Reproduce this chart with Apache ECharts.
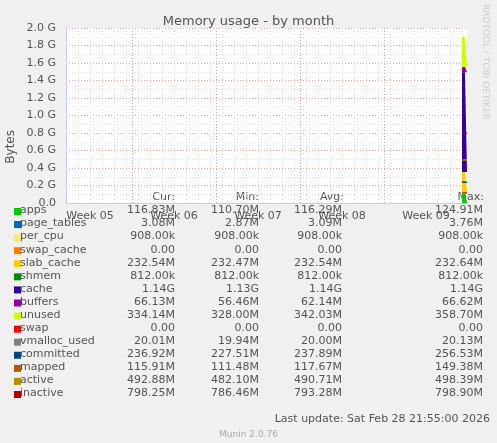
<!DOCTYPE html>
<html><head><meta charset="utf-8">
<script src="https://cdn.jsdelivr.net/npm/echarts@6/dist/echarts.min.js"></script>
<style>html,body{margin:0;background:#f0f0f0}#c{width:497px;height:443px}</style>
</head><body><div id="c"></div>
<script>
// x is in 2-hour steps from the left edge of the graph (12 steps per day), values in bytes
var steps = [396, 398, 399, 401];
var stackNames = ['apps','page_tables','per_cpu','swap_cache','slab_cache','shmem','cache','buffers','unused','swap'];
var stackColors = ['#00cc00','#0066b3','#ffe680','#ff8000','#ffcc00','#008f00','#330099','#990099','#ccff00','#ff0000'];
var apps        = [117.5e6, 116.8e6, 116.8e6, 116.83e6];
var page_tables = [3.1e6, 3.08e6, 3.08e6, 3.08e6];
var per_cpu     = [0.908e6, 0.908e6, 0.908e6, 0.908e6];
var swap_cache  = [0, 0, 0, 0];
var slab_cache  = [232.6e6, 232.5e6, 232.5e6, 232.54e6];
var shmem       = [0.812e6, 0.812e6, 0.812e6, 0.812e6];
var cache       = [1.14e9, 1.14e9, 1.14e9, 1.14e9];
var buffers     = [56e6, 62e6, 64e6, 66.13e6];
var unused      = [350e6, 340e6, 336e6, 334.14e6];
var swap        = [0, 0, 0, 0];
var lineNames = ['vmalloc_used','committed','mapped','active','inactive'];
var lineColors = ['#808080','#00487d','#b35a00','#b38f00','#b30000'];
var vmalloc_used = [20.0e6, 20.0e6, 20.0e6, 20.01e6];
var committed    = [240e6, 238e6, 237e6, 236.92e6];
var mapped       = [118e6, 117e6, 116e6, 115.91e6];
var active       = [490e6, 491e6, 492e6, 492.88e6];
var inactive     = [790e6, 795e6, 797e6, 798.25e6];
var weekLabels = ['Week 05','Week 06','Week 07','Week 08','Week 09'];
var legendRows = [
  ['apps','116.83M','110.70M','116.29M','124.91M'],
  ['page_tables','3.08M','2.87M','3.09M','3.76M'],
  ['per_cpu','908.00k','908.00k','908.00k','908.00k'],
  ['swap_cache','0.00','0.00','0.00','0.00'],
  ['slab_cache','232.54M','232.47M','232.54M','232.64M'],
  ['shmem','812.00k','812.00k','812.00k','812.00k'],
  ['cache','1.14G','1.13G','1.14G','1.14G'],
  ['buffers','66.13M','56.46M','62.14M','66.62M'],
  ['unused','334.14M','328.00M','342.03M','358.70M'],
  ['swap','0.00','0.00','0.00','0.00'],
  ['vmalloc_used','20.01M','19.94M','20.00M','20.13M'],
  ['committed','236.92M','227.51M','237.89M','256.53M'],
  ['mapped','115.91M','111.48M','117.67M','149.38M'],
  ['active','492.88M','482.10M','490.71M','498.39M'],
  ['inactive','798.25M','786.46M','793.28M','798.90M']
];
var stackData = [apps,page_tables,per_cpu,swap_cache,slab_cache,shmem,cache,buffers,unused,swap];
var lineData = [vmalloc_used,committed,mapped,active,inactive];
var legendColors = stackColors.concat(lineColors);

var N = 402;
var cats = [];
for (var i = 0; i < N; i++) cats.push(i);
function full(arr){
  var out = new Array(N).fill(null);
  steps.forEach(function(s,i){ out[s] = arr[i]/1e9; });
  for (var k = steps[0]; k <= steps[steps.length-1]; k++) if (out[k] === null) out[k] = out[k-1];
  return out;
}

var series = [];
stackNames.forEach(function(n,i){
  series.push({name:n,type:'line',stack:'mem',data:full(stackData[i]),symbol:'none',
    lineStyle:{width:0},areaStyle:{color:stackColors[i],opacity:1},itemStyle:{color:stackColors[i]}});
});
lineNames.forEach(function(n,i){
  series.push({name:n,type:'line',data:full(lineData[i]),symbol:'none',
    lineStyle:{width:1.5,color:lineColors[i]},itemStyle:{color:lineColors[i]}});
});
series.push({type:'line',data:[],markLine:{silent:true,symbol:'none',label:{show:false},
  lineStyle:{color:'#e0a0a0',type:[1,2],width:1},
  data:[66,150,234,318].map(function(x){return {xAxis:x};})}});

var F = 'DejaVu Sans';
var graphic = [
  {type:'text',right:322,top:192,style:{text:'Cur:',font:'11px '+F,fill:'#555'}},
  {type:'text',right:238,top:192,style:{text:'Min:',font:'11px '+F,fill:'#555'}},
  {type:'text',right:153,top:192,style:{text:'Avg:',font:'11px '+F,fill:'#555'}},
  {type:'text',right:13,top:192,style:{text:'Max:',font:'11px '+F,fill:'#555'}},
  {type:'text',right:7,top:414,style:{text:'Last update: Sat Feb 28 21:55:00 2026',font:'11px '+F,fill:'#555'}},
  {type:'text',left:'center',top:430,style:{text:'Munin 2.0.76',font:'9px '+F,fill:'#aaa'}},
  {type:'text',left:5,top:130,rotation:Math.PI/2,style:{text:'Bytes',font:'12px '+F,fill:'#555'}},
  {type:'text',left:481,top:4,rotation:-Math.PI/2,style:{text:'RRDTOOL / TOBI OETIKER',font:'9px '+F,fill:'#ccc'}}
];
legendRows.forEach(function(r,i){
  var y = 205 + i*13.07;
  graphic.push({type:'rect',shape:{x:14,y:y+3,width:7,height:7},style:{fill:legendColors[i]}});
  graphic.push({type:'text',left:20,top:y,style:{text:r[0],font:'11px '+F,fill:'#555'}});
  [175,259,342,483].forEach(function(rx,j){
    graphic.push({type:'text',right:497-rx,top:y,style:{text:r[j+1],font:'11px '+F,fill:'#555'}});
  });
});

var chart = echarts.init(document.getElementById('c'));
chart.setOption({
  backgroundColor:'#f0f0f0',
  animation:false,
  title:{text:'Memory usage - by month',left:'center',top:10,textStyle:{fontFamily:F,fontSize:13,fontWeight:'normal',color:'#555'}},
  grid:{left:66,right:30,top:28,bottom:240,backgroundColor:'#fff',show:true,borderWidth:0,containLabel:false,outerBoundsMode:'none'},
  xAxis:{type:'category',data:cats,boundaryGap:false,
    axisLine:{lineStyle:{color:'#c8c8ff'}},axisTick:{show:false},
    axisLabel:{fontFamily:F,fontSize:11,color:'#555',interval:function(i){ return i>=24 && (i-24)%84===0; },
      formatter:function(v){ return weekLabels[(v-24)/84] || ''; }},
    splitLine:{show:true,interval:function(i){ return i%12===0; },lineStyle:{color:'#ddd',type:[1,2]}}},
  yAxis:{type:'value',min:0,max:2.0,interval:0.2,
    axisLine:{show:true,lineStyle:{color:'#c8c8ff'}},axisTick:{show:false},
    axisLabel:{fontFamily:F,fontSize:11,color:'#555',margin:10,
      formatter:function(v){ return v===0?'0.0':v.toFixed(1)+' G'; }},
    splitLine:{lineStyle:{color:'#f0a0a0',type:[1,2]}},
    minorTick:{show:false,splitNumber:2},minorSplitLine:{show:true,lineStyle:{color:'#ddd',type:[1,2]}}},
  series:series,
  graphic:graphic
});
</script></body></html>
